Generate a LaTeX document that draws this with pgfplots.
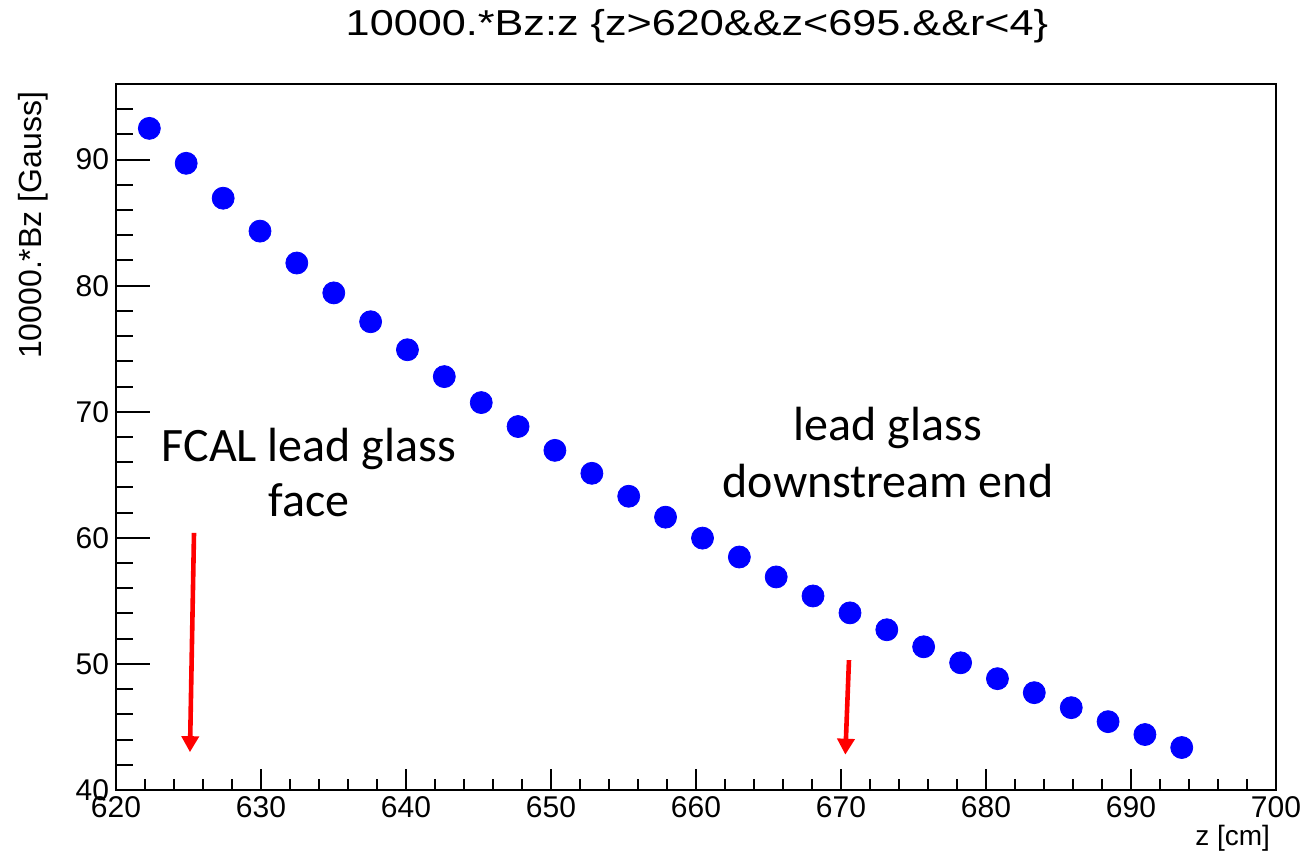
\documentclass[border=0pt]{standalone}
\usepackage{fontspec}
\setmainfont{Liberation Sans}
\newfontfamily\calfont{Carlito}
\usepackage{pgfplots}
\pgfplotsset{compat=1.18}
\usetikzlibrary{arrows.meta}
\begin{document}
\begin{tikzpicture}
\path[use as bounding box] (0bp,0bp) rectangle (654bp,428bp);
\begin{axis}[
  at={(58bp,33bp)}, anchor=south west, scale only axis,
  width=580bp, height=353bp,
  xmin=620, xmax=700, ymin=40, ymax=96,
  xtick={620,630,...,700}, ytick={40,50,...,100},
  minor x tick num=4, minor y tick num=4,
  xtick pos=bottom, ytick pos=left, tick align=inside,
  axis line style={line width=1bp},
  every tick/.style={black, line width=1bp},
  xtick style={/pgfplots/major tick length=10.5bp, /pgfplots/minor tick length=5.3bp},
  ytick style={/pgfplots/major tick length=17bp, /pgfplots/minor tick length=8.7bp},
  /pgf/number format/assume math mode=true,
  xticklabel={\fontsize{15bp}{17bp}\selectfont\pgfmathprintnumber{\tick}},
  yticklabel={\fontsize{15bp}{17bp}\selectfont\pgfmathprintnumber{\tick}},
  clip=false,
]
\addplot[only marks, mark=*, mark size=5.5bp, mark options={fill=blue, draw=blue}] coordinates {
(622.30,92.48) (624.84,89.71) (627.39,86.94) (629.93,84.33) (632.47,81.80)
(635.02,79.43) (637.56,77.14) (640.10,74.92) (642.64,72.79) (645.19,70.73)
(647.73,68.83) (650.27,66.94) (652.82,65.12) (655.36,63.30) (657.90,61.64)
(660.45,59.98) (662.99,58.48) (665.53,56.90) (668.07,55.39) (670.62,54.05)
(673.16,52.71) (675.70,51.36) (678.25,50.09) (680.79,48.83) (683.33,47.72)
(685.88,46.53) (688.42,45.42) (690.96,44.40) (693.50,43.37)
};
\draw[red, line width=2.3bp, -{Triangle[length=8bp,width=8.5bp]}] (axis cs:625.38,60.4) -- (axis cs:625.10,43.0);
\draw[red, line width=2.3bp, -{Triangle[length=8bp,width=8.5bp]}] (axis cs:670.55,50.3) -- (axis cs:670.30,42.8);
\end{axis}
\node[xscale=1.2, font=\fontsize{18bp}{21bp}\selectfont] at (348.5bp,415bp) {10000.*Bz:z \{z>620\&\&z<695.\&\&r<4\}};
\node[rotate=90, anchor=east, font=\fontsize{16bp}{18bp}\selectfont] at (16.8bp,385.5bp) {10000.*Bz [Gauss]};
\node[anchor=east, font=\fontsize{14bp}{16bp}\selectfont] at (638.5bp,9bp) {z [cm]};
\node[align=center, font=\calfont\fontsize{24bp}{27.5bp}\selectfont] at (154.5bp,191.5bp) {FCAL lead glass\\face};
\node[align=center, font=\calfont\fontsize{24bp}{28.5bp}\selectfont] at (444bp,201.75bp) {lead glass\\downstream end};
\end{tikzpicture}
\end{document}
